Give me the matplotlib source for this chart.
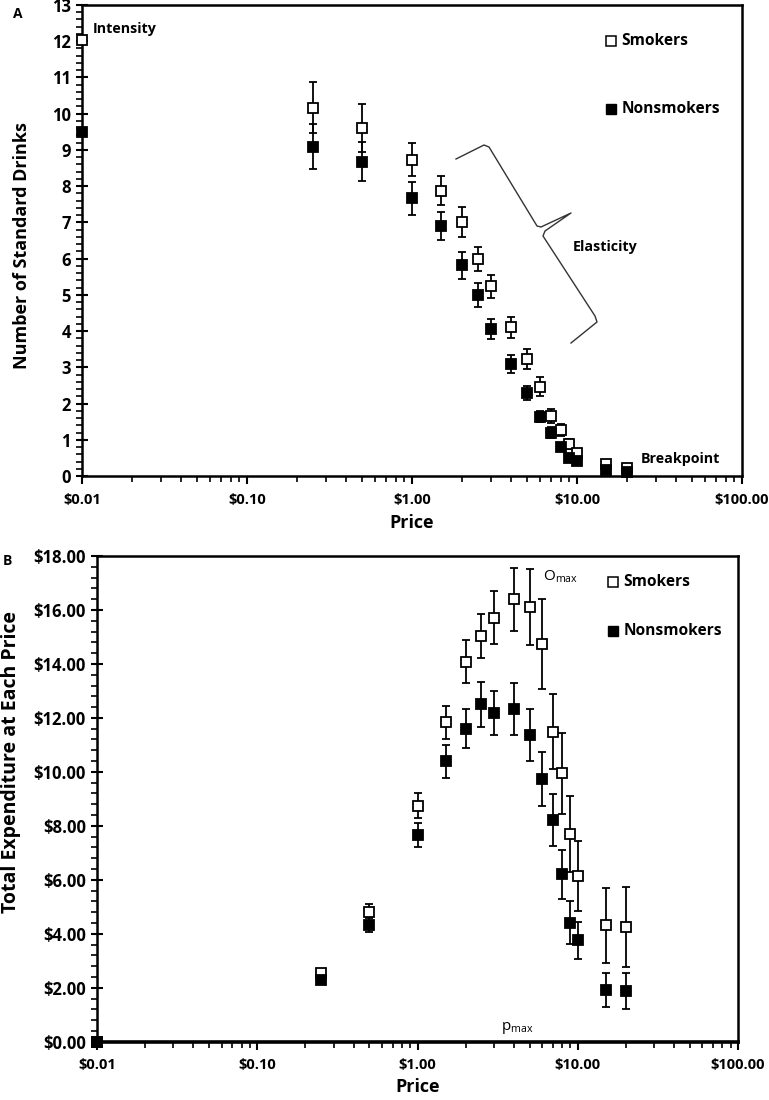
import numpy as np
import matplotlib
matplotlib.use("Agg")
import matplotlib.pyplot as plt
from matplotlib.ticker import FixedLocator, FuncFormatter, MultipleLocator, LogLocator, NullFormatter

plt.rcParams['font.family'] = ['Open Sans', 'DejaVu Sans']

# prix testes ($0.01 tient lieu de $0)
prices = [0.01, 0.25, 0.5, 1, 1.5, 2, 2.5, 3, 4, 5, 6, 7, 8, 9, 10, 15, 20]

# Panneau A : consommation
smk_drinks = [12.03, 10.17, 9.60, 8.73, 7.87, 7.02, 6.00, 5.24, 4.10, 3.23, 2.47, 1.65, 1.27, 0.88, 0.64, 0.33, 0.23]
smk_drinks_err = [0, 0.71, 0.67, 0.46, 0.40, 0.41, 0.33, 0.32, 0.30, 0.28, 0.27, 0.20, 0.17, 0.13, 0.10, 0.05, 0.05]
non_drinks = [9.50, 9.09, 8.68, 7.66, 6.90, 5.81, 5.00, 4.05, 3.09, 2.29, 1.64, 1.20, 0.80, 0.51, 0.41, 0.16, 0.12]
non_drinks_err = [0, 0.62, 0.55, 0.45, 0.40, 0.36, 0.33, 0.28, 0.25, 0.19, 0.16, 0.15, 0.10, 0.08, 0.07, 0.04, 0.04]

# Panneau B : depense totale
smk_spend = [0, 2.56, 4.79, 8.75, 11.83, 14.09, 15.03, 15.72, 16.39, 16.10, 14.74, 11.48, 9.94, 7.69, 6.14, 4.32, 4.25]
smk_spend_err = [0, 0.12, 0.32, 0.46, 0.62, 0.80, 0.81, 0.97, 1.18, 1.40, 1.67, 1.39, 1.50, 1.40, 1.28, 1.39, 1.47]
non_spend = [0, 2.27, 4.32, 7.66, 10.39, 11.60, 12.51, 12.17, 12.33, 11.36, 9.75, 8.21, 6.20, 4.41, 3.76, 1.91, 1.87]
non_spend_err = [0, 0.10, 0.26, 0.43, 0.60, 0.73, 0.83, 0.82, 0.97, 0.97, 1.00, 0.97, 0.91, 0.79, 0.69, 0.64, 0.66]

x_ticks = [0.01, 0.1, 1, 10, 100]
x_labels = ['$0.01', '$0.10', '$1.00', '$10.00', '$100.00']

fig = plt.figure(figsize=(7.69, 11.0), dpi=100)
W, H = 769.0, 1100.0

def pix_axes(l, t, r, b):
    return fig.add_axes([l / W, 1 - b / H, (r - l) / W, (b - t) / H])

axA = pix_axes(82, 5, 742, 476)
axB = pix_axes(97, 556, 738, 1041.7)


############################################################################################
# trace d'une serie
def series(ax, y, yerr, filled):
    fc = 'black' if filled else 'white'
    ax.errorbar(prices, y, yerr=yerr, fmt='s', ms=6.8, mfc=fc, mec='black', mew=1.3,
                ecolor='black', elinewidth=1.3, capsize=3, capthick=1.3, clip_on=False, zorder=3)


def style(ax, ymax, ymaj, ymin):
    ax.set_xscale('log')
    ax.set_xlim(0.01, 100)
    ax.set_ylim(0, ymax)
    ax.xaxis.set_major_locator(FixedLocator(x_ticks))
    ax.xaxis.set_major_formatter(FuncFormatter(lambda v, p: x_labels[x_ticks.index(v)] if v in x_ticks else ''))
    ax.xaxis.set_minor_locator(LogLocator(base=10, subs=np.arange(2, 10)))
    ax.xaxis.set_minor_formatter(NullFormatter())
    ax.yaxis.set_major_locator(MultipleLocator(ymaj))
    ax.yaxis.set_minor_locator(MultipleLocator(ymin))
    ax.tick_params(axis='both', which='major', direction='inout', length=8, width=1.5, pad=4)
    ax.tick_params(axis='y', which='major', labelsize=12)
    ax.tick_params(axis='both', which='minor', direction='out', length=4, width=1.2)
    ax.tick_params(axis='x', which='major', direction='out', length=6, pad=6, labelsize=10.5)
    for s in ax.spines.values():
        s.set_linewidth(1.8)
        s.set_color('black')
    ax.set_xlabel('Price', fontsize=13, fontweight='bold')
    ax.xaxis.label.set_va('center')


def bold_ticks(ax):
    for lab in ax.get_xticklabels() + ax.get_yticklabels():
        lab.set_fontweight('bold')


def legend(ax, x, y1, y2):
    ax.plot([x], [y1], 's', ms=7, mfc='white', mec='black', mew=1.1, transform=ax.transAxes, clip_on=False)
    ax.plot([x], [y2], 's', ms=7, mfc='black', mec='black', transform=ax.transAxes, clip_on=False)
    ax.text(x + 0.016, y1, 'Smokers', transform=ax.transAxes, fontsize=11.2, fontweight='bold', va='center')
    ax.text(x + 0.016, y2, 'Nonsmokers', transform=ax.transAxes, fontsize=11.2, fontweight='bold', va='center')


############################################################################################
# Panneau A
series(axA, smk_drinks, smk_drinks_err, False)
series(axA, non_drinks, non_drinks_err, True)
style(axA, 13, 1, 0.2)
bold_ticks(axA)
axA.set_ylabel('Number of Standard Drinks', fontsize=13, fontweight='bold')
axA.yaxis.label.set_va('center')
axA.yaxis.set_label_coords((22 - 82) / 660.0, 0.49)
axA.xaxis.set_label_coords(0.5, -(523 - 476) / 471.0)
legend(axA, (611 - 82) / 660.0, 1 - (41 - 5) / 471.0, 1 - (109 - 5) / 471.0)
axA.text(93 / W, 1 - 29 / H, 'Intensity', transform=fig.transFigure, fontsize=10.3, fontweight='bold', va='center')
axA.text(573 / W, 1 - 247 / H, 'Elasticity', transform=fig.transFigure, fontsize=10.3, fontweight='bold', va='center')
axA.text(641 / W, 1 - 459 / H, 'Breakpoint', transform=fig.transFigure, fontsize=10.3, fontweight='bold', va='center')

# accolade (elasticite)
bx = [456, 484, 489, 537, 541, 571, 545, 543, 595, 597, 571]
by = [159, 145, 147, 226, 227, 213, 231, 236, 316, 322, 343]
fig.add_artist(plt.Line2D([v / W for v in bx], [1 - v / H for v in by], color='#333333', lw=1.0))

############################################################################################
# Panneau B
series(axB, smk_spend, smk_spend_err, False)
series(axB, non_spend, non_spend_err, True)
style(axB, 18, 2, 0.4)
axB.yaxis.set_major_formatter(FuncFormatter(lambda v, p: '${:.2f}'.format(v)))
bold_ticks(axB)
axB.spines['bottom'].set_linewidth(2.6)
axB.set_ylabel('Total Expenditure at Each Price', fontsize=14, fontweight='bold')
axB.yaxis.label.set_va('center')
axB.yaxis.set_label_coords((11 - 97) / 641.0, (1041.7 - 762) / 485.7)
axB.xaxis.set_label_coords(0.5, -(1087 - 1041.7) / 485.7)
legend(axB, (613 - 97) / 641.0, 1 - (582 - 556) / 485.7, 1 - (631 - 556) / 485.7)
axB.text(543 / W, 1 - 577 / H, r'O$_{\mathregular{max}}$', transform=fig.transFigure, fontsize=11, va='center')
axB.text(501 / W, 1 - 1028 / H, r'p$_{\mathregular{max}}$', transform=fig.transFigure, fontsize=11, va='center')

fig.text(13 / W, 1 - 14 / H, 'A', fontsize=10, fontweight='bold', va='center')
fig.text(3 / W, 1 - 561 / H, 'B', fontsize=10, fontweight='bold', va='center')

fig.savefig('out.png', dpi=100)
